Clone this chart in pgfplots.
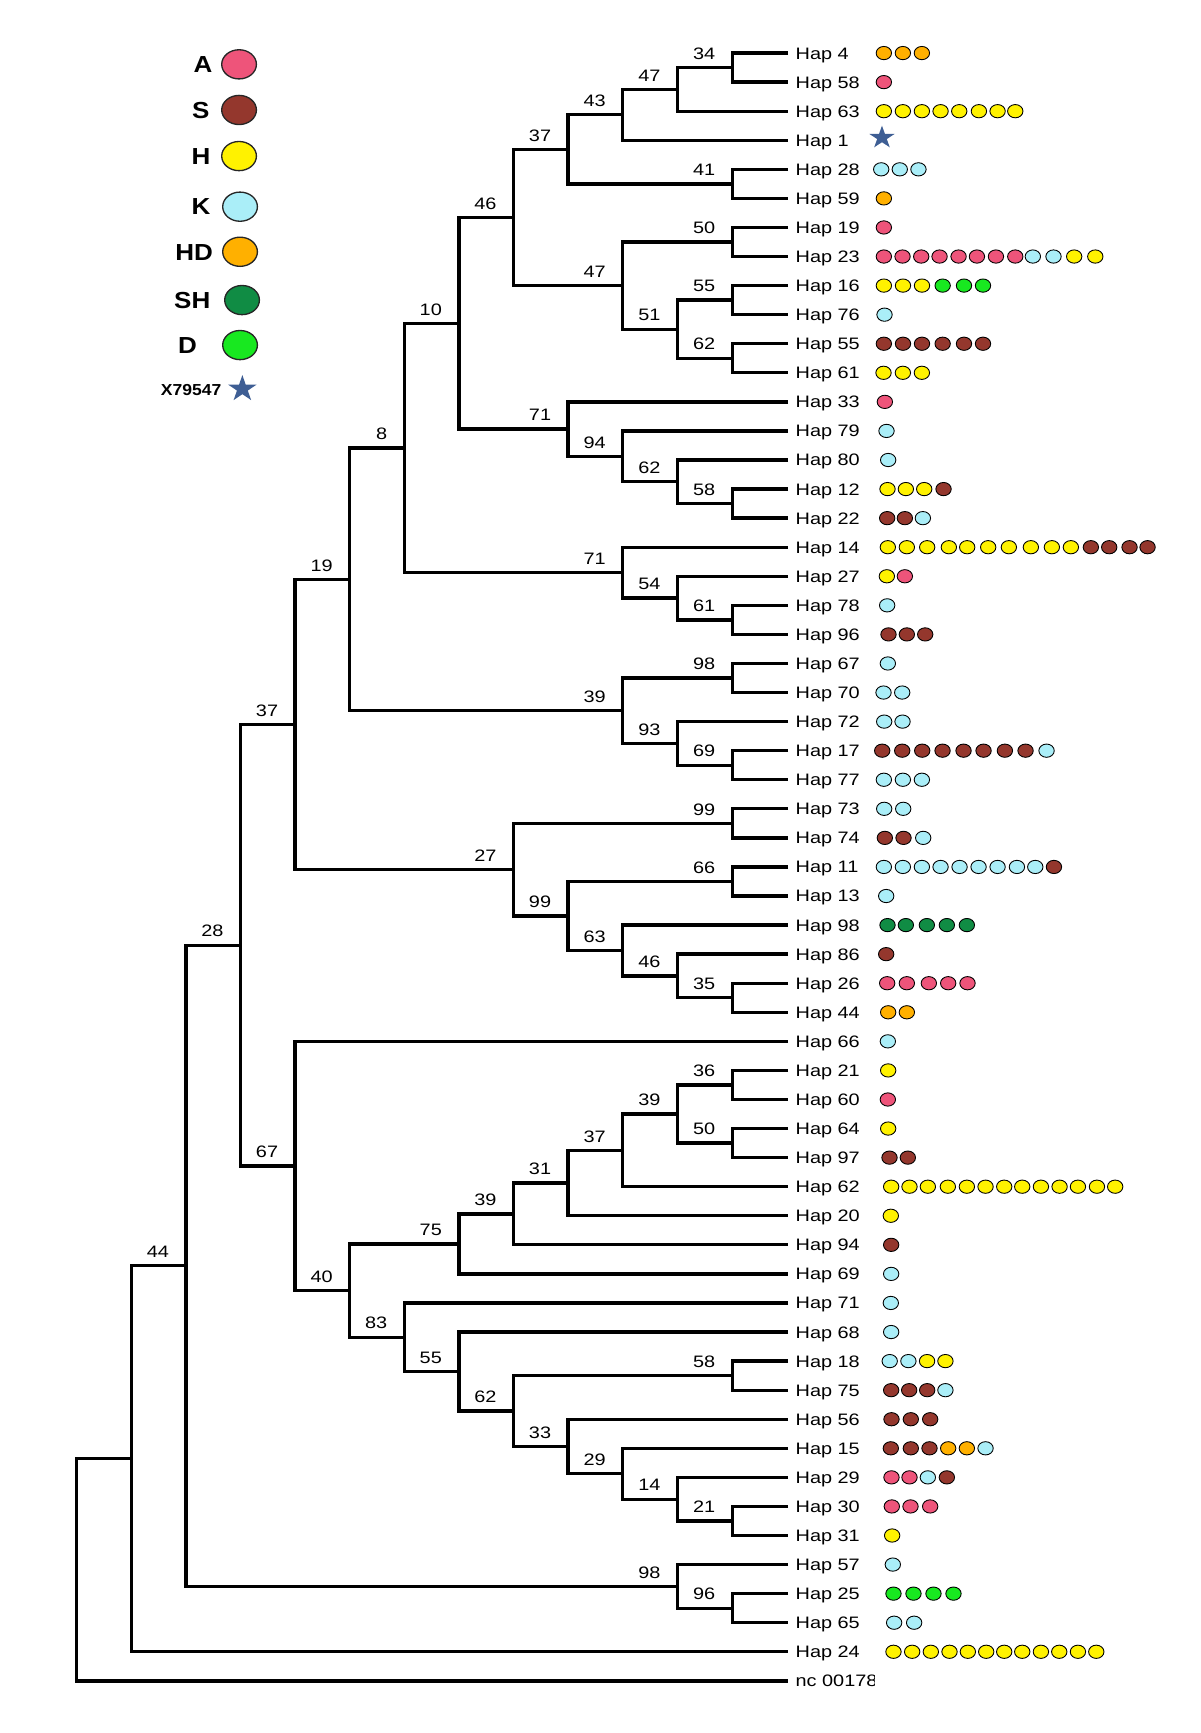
\documentclass[border=0pt]{standalone}
\usepackage{pgfplots}
\pgfplotsset{compat=1.18}
\usepackage{graphicx}
\usepackage{fontspec}
\setmainfont{Liberation Sans}
\definecolor{cA}{RGB}{238,84,122}
\definecolor{cS}{RGB}{148,55,45}
\definecolor{cH}{RGB}{255,242,0}
\definecolor{cK}{RGB}{170,238,248}
\definecolor{cHD}{RGB}{255,176,0}
\definecolor{cSH}{RGB}{16,140,68}
\definecolor{cD}{RGB}{24,232,32}
\definecolor{cStar}{RGB}{62,94,148}
\pgfdeclareplotmark{fstar}{%
  \pgfpathmoveto{\pgfpointpolar{90}{\pgfplotmarksize}}%
  \pgfpathlineto{\pgfpointpolar{54}{0.382\pgfplotmarksize}}%
  \pgfpathlineto{\pgfpointpolar{18}{\pgfplotmarksize}}%
  \pgfpathlineto{\pgfpointpolar{-18}{0.382\pgfplotmarksize}}%
  \pgfpathlineto{\pgfpointpolar{-54}{\pgfplotmarksize}}%
  \pgfpathlineto{\pgfpointpolar{-90}{0.382\pgfplotmarksize}}%
  \pgfpathlineto{\pgfpointpolar{-126}{\pgfplotmarksize}}%
  \pgfpathlineto{\pgfpointpolar{-162}{0.382\pgfplotmarksize}}%
  \pgfpathlineto{\pgfpointpolar{162}{\pgfplotmarksize}}%
  \pgfpathlineto{\pgfpointpolar{126}{0.382\pgfplotmarksize}}%
  \pgfpathclose\pgfusepathqfill}
\pgfplotsset{
  tree/.style={black, line width=1.5pt, mark=none, line join=miter},
  dots/.style={only marks, mark=*, mark size=3pt,
     mark options={xscale=1.16, fill=#1, draw=black, line width=0.4pt}},
  ldot/.style={only marks, mark=*, mark size=6.6pt,
     mark options={xscale=1.19, fill=#1, draw=black!85, line width=0.6pt}},
}
\tikzset{
  hapst/.style={anchor=base west, inner sep=0pt, yshift=-2.7pt, font=\fontsize{7.5}{9}\selectfont},
  blst/.style={anchor=base east, inner sep=0pt, xshift=-7.5pt, yshift=3.75pt, font=\fontsize{7.5}{9}\selectfont},
  legst/.style={anchor=base east, inner sep=0pt, yshift=-3.75pt, font=\bfseries\fontsize{10.5}{12}\selectfont},
}
\newcommand\hap[2]{\node[hapst] at (axis cs:719.5,#1) {\scalebox{1.2}[1]{#2}};}
\newcommand\bl[3]{\node[blst] at (axis cs:#2,#3) {\scalebox{1.2}[1]{#1}};}
\newcommand\legtxt[3]{\node[legst] at (axis cs:#1,#2) {\scalebox{1.12}[1]{#3}};}
\begin{document}
\begin{tikzpicture}
\begin{axis}[
  hide axis, scale only axis, width=543pt, height=784pt,
  xmin=0, xmax=1086, ymin=-1.825, ymax=57.795, y dir=reverse,
  clip=false]
\path (rel axis cs:0,0) rectangle (rel axis cs:1,1);
% ---------------- tree ----------------
\addplot[tree] coordinates {(713,0) (662.5,0) (662.5,1) (713,1)};
\addplot[tree] coordinates {(662.5,0.5) (613,0.5) (613,2) (713,2)};
\addplot[tree] coordinates {(613,1.25) (563.5,1.25) (563.5,3) (713,3)};
\addplot[tree] coordinates {(713,4) (662.5,4) (662.5,5) (713,5)};
\addplot[tree] coordinates {(563.5,2.125) (514,2.125) (514,4.5) (662.5,4.5)};
\addplot[tree] coordinates {(713,6) (662.5,6) (662.5,7) (713,7)};
\addplot[tree] coordinates {(713,8) (662.5,8) (662.5,9) (713,9)};
\addplot[tree] coordinates {(713,10) (662.5,10) (662.5,11) (713,11)};
\addplot[tree] coordinates {(662.5,8.5) (613,8.5) (613,10.5) (662.5,10.5)};
\addplot[tree] coordinates {(662.5,6.5) (563.5,6.5) (563.5,9.5) (613,9.5)};
\addplot[tree] coordinates {(514,3.3125) (464.6,3.3125) (464.6,8) (563.5,8)};
\addplot[tree] coordinates {(713,15) (662.5,15) (662.5,16) (713,16)};
\addplot[tree] coordinates {(713,14) (613,14) (613,15.5) (662.5,15.5)};
\addplot[tree] coordinates {(713,13) (563.5,13) (563.5,14.75) (613,14.75)};
\addplot[tree] coordinates {(713,12) (514,12) (514,13.875) (563.5,13.875)};
\addplot[tree] coordinates {(464.6,5.65625) (415.2,5.65625) (415.2,12.9375) (514,12.9375)};
\addplot[tree] coordinates {(713,19) (662.5,19) (662.5,20) (713,20)};
\addplot[tree] coordinates {(713,18) (613,18) (613,19.5) (662.5,19.5)};
\addplot[tree] coordinates {(713,17) (563.5,17) (563.5,18.75) (613,18.75)};
\addplot[tree] coordinates {(415.2,9.296875) (365.8,9.296875) (365.8,17.875) (563.5,17.875)};
\addplot[tree] coordinates {(713,21) (662.5,21) (662.5,22) (713,22)};
\addplot[tree] coordinates {(713,24) (662.5,24) (662.5,25) (713,25)};
\addplot[tree] coordinates {(713,23) (613,23) (613,24.5) (662.5,24.5)};
\addplot[tree] coordinates {(662.5,21.5) (563.5,21.5) (563.5,23.75) (613,23.75)};
\addplot[tree] coordinates {(365.8,13.5859) (316.5,13.5859) (316.5,22.625) (563.5,22.625)};
\addplot[tree] coordinates {(713,26) (662.5,26) (662.5,27) (713,27)};
\addplot[tree] coordinates {(713,28) (662.5,28) (662.5,29) (713,29)};
\addplot[tree] coordinates {(713,32) (662.5,32) (662.5,33) (713,33)};
\addplot[tree] coordinates {(713,31) (613,31) (613,32.5) (662.5,32.5)};
\addplot[tree] coordinates {(713,30) (563.5,30) (563.5,31.75) (613,31.75)};
\addplot[tree] coordinates {(662.5,28.5) (514,28.5) (514,30.875) (563.5,30.875)};
\addplot[tree] coordinates {(662.5,26.5) (464.6,26.5) (464.6,29.6875) (514,29.6875)};
\addplot[tree] coordinates {(316.5,18.1055) (267,18.1055) (267,28.0938) (464.6,28.0938)};
\addplot[tree] coordinates {(713,35) (662.5,35) (662.5,36) (713,36)};
\addplot[tree] coordinates {(713,37) (662.5,37) (662.5,38) (713,38)};
\addplot[tree] coordinates {(662.5,35.5) (613,35.5) (613,37.5) (662.5,37.5)};
\addplot[tree] coordinates {(613,36.5) (563.5,36.5) (563.5,39) (713,39)};
\addplot[tree] coordinates {(563.5,37.75) (514,37.75) (514,40) (713,40)};
\addplot[tree] coordinates {(514,38.875) (464.6,38.875) (464.6,41) (713,41)};
\addplot[tree] coordinates {(464.6,39.9375) (415.2,39.9375) (415.2,42) (713,42)};
\addplot[tree] coordinates {(713,45) (662.5,45) (662.5,46) (713,46)};
\addplot[tree] coordinates {(713,50) (662.5,50) (662.5,51) (713,51)};
\addplot[tree] coordinates {(713,49) (613,49) (613,50.5) (662.5,50.5)};
\addplot[tree] coordinates {(713,48) (563.5,48) (563.5,49.75) (613,49.75)};
\addplot[tree] coordinates {(713,47) (514,47) (514,48.875) (563.5,48.875)};
\addplot[tree] coordinates {(662.5,45.5) (464.6,45.5) (464.6,47.9375) (514,47.9375)};
\addplot[tree] coordinates {(713,44) (415.2,44) (415.2,46.71875) (464.6,46.71875)};
\addplot[tree] coordinates {(713,43) (365.8,43) (365.8,45.3594) (415.2,45.3594)};
\addplot[tree] coordinates {(415.2,40.96875) (316.5,40.96875) (316.5,44.1797) (365.8,44.1797)};
\addplot[tree] coordinates {(713,34) (267,34) (267,42.5742) (316.5,42.5742)};
\addplot[tree] coordinates {(267,23.0996) (217.6,23.0996) (217.6,38.2871) (267,38.2871)};
\addplot[tree] coordinates {(713,53) (662.5,53) (662.5,54) (713,54)};
\addplot[tree] coordinates {(713,52) (613,52) (613,53.5) (662.5,53.5)};
\addplot[tree] coordinates {(217.6,30.6934) (168.2,30.6934) (168.2,52.75) (613,52.75)};
\addplot[tree] coordinates {(168.2,41.7217) (118.8,41.7217) (118.8,55) (713,55)};
\addplot[tree] coordinates {(118.8,48.3609) (69.5,48.3609) (69.5,56) (713,56)};
% ---------------- bootstrap labels ----------------
\bl{34}{662.5}{0.5}
\bl{47}{613}{1.25}
\bl{43}{563.5}{2.125}
\bl{41}{662.5}{4.5}
\bl{37}{514}{3.3125}
\bl{50}{662.5}{6.5}
\bl{55}{662.5}{8.5}
\bl{62}{662.5}{10.5}
\bl{51}{613}{9.5}
\bl{47}{563.5}{8}
\bl{46}{464.6}{5.65625}
\bl{58}{662.5}{15.5}
\bl{62}{613}{14.75}
\bl{94}{563.5}{13.875}
\bl{71}{514}{12.9375}
\bl{10}{415.2}{9.296875}
\bl{61}{662.5}{19.5}
\bl{54}{613}{18.75}
\bl{71}{563.5}{17.875}
\bl{8}{365.8}{13.5859}
\bl{98}{662.5}{21.5}
\bl{69}{662.5}{24.5}
\bl{93}{613}{23.75}
\bl{39}{563.5}{22.625}
\bl{19}{316.5}{18.1055}
\bl{99}{662.5}{26.5}
\bl{66}{662.5}{28.5}
\bl{35}{662.5}{32.5}
\bl{46}{613}{31.75}
\bl{63}{563.5}{30.875}
\bl{99}{514}{29.6875}
\bl{27}{464.6}{28.0938}
\bl{37}{267}{23.0996}
\bl{36}{662.5}{35.5}
\bl{50}{662.5}{37.5}
\bl{39}{613}{36.5}
\bl{37}{563.5}{37.75}
\bl{31}{514}{38.875}
\bl{39}{464.6}{39.9375}
\bl{75}{415.2}{40.96875}
\bl{58}{662.5}{45.5}
\bl{21}{662.5}{50.5}
\bl{14}{613}{49.75}
\bl{29}{563.5}{48.875}
\bl{33}{514}{47.9375}
\bl{62}{464.6}{46.71875}
\bl{55}{415.2}{45.359375}
\bl{83}{365.8}{44.1797}
\bl{40}{316.5}{42.5742}
\bl{67}{267}{38.2871}
\bl{28}{217.6}{30.6934}
\bl{96}{662.5}{53.5}
\bl{98}{613}{52.75}
\bl{44}{168.2}{41.7217}
% ---------------- leaf names ----------------
\hap{0}{Hap 4}\hap{1}{Hap 58}\hap{2}{Hap 63}\hap{3}{Hap 1}\hap{4}{Hap 28}
\hap{5}{Hap 59}\hap{6}{Hap 19}\hap{7}{Hap 23}\hap{8}{Hap 16}\hap{9}{Hap 76}
\hap{10}{Hap 55}\hap{11}{Hap 61}\hap{12}{Hap 33}\hap{13}{Hap 79}\hap{14}{Hap 80}
\hap{15}{Hap 12}\hap{16}{Hap 22}\hap{17}{Hap 14}\hap{18}{Hap 27}\hap{19}{Hap 78}
\hap{20}{Hap 96}\hap{21}{Hap 67}\hap{22}{Hap 70}\hap{23}{Hap 72}\hap{24}{Hap 17}
\hap{25}{Hap 77}\hap{26}{Hap 73}\hap{27}{Hap 74}\hap{28}{Hap 11}\hap{29}{Hap 13}
\hap{30}{Hap 98}\hap{31}{Hap 86}\hap{32}{Hap 26}\hap{33}{Hap 44}\hap{34}{Hap 66}
\hap{35}{Hap 21}\hap{36}{Hap 60}\hap{37}{Hap 64}\hap{38}{Hap 97}\hap{39}{Hap 62}
\hap{40}{Hap 20}\hap{41}{Hap 94}\hap{42}{Hap 69}\hap{43}{Hap 71}\hap{44}{Hap 68}
\hap{45}{Hap 18}\hap{46}{Hap 75}\hap{47}{Hap 56}\hap{48}{Hap 15}\hap{49}{Hap 29}
\hap{50}{Hap 30}\hap{51}{Hap 31}\hap{52}{Hap 57}\hap{53}{Hap 25}\hap{54}{Hap 65}
\hap{55}{Hap 24}
\begin{scope}
\clip (axis cs:700,55.5) rectangle (axis cs:791,57);
\hap{56}{nc 00178}
\end{scope}
% ---------------- haplotype dots ----------------
\addplot[dots=cA] coordinates {(799.7,1) (799.7,6)
 (799.7,7) (816.6,7) (833.5,7) (850.1,7) (867.3,7) (883.9,7) (901.1,7) (918.6,7)
 (800.6,12) (818.7,18)
 (802.7,32) (820.5,32) (840.4,32) (857.9,32) (875.4,32)
 (803.3,36) (806.6,49) (822.9,49) (806.9,50) (823.8,50) (841.6,50)};
\addplot[dots=cS] coordinates {
 (799.7,10) (817,10) (834.2,10) (852.9,10) (872.2,10) (889.4,10)
 (853.7,15) (802.7,16) (818.7,16)
 (987.0,17) (1003.6,17) (1022.0,17) (1038.3,17)
 (803.9,20) (820.5,20) (837.1,20)
 (798.2,24) (816.3,24) (834.4,24) (852.8,24) (871.8,24) (889.9,24) (909.2,24) (927.9,24)
 (800.6,27) (817.5,27) (953.6,28) (801.8,31) (804.8,38) (821.4,38) (806.3,41)
 (806.3,46) (822.6,46) (838.9,46) (806.6,47) (824.1,47) (841.6,47)
 (806,48) (824.1,48) (841,48) (856.7,49)};
\addplot[dots=cH] coordinates {
 (799.7,2) (816.9,2) (834.1,2) (851.0,2) (867.9,2) (885.7,2) (902.6,2) (918.6,2)
 (971.9,7) (991.0,7)
 (799.7,8) (817,8) (834.2,8)
 (799.4,11) (816.9,11) (834.1,11)
 (803,15) (819.6,15) (836.2,15)
 (803.3,17) (820.5,17) (838.9,17) (858.5,17) (875.1,17) (894.1,17) (912.8,17) (932.7,17) (951.7,17) (968.9,17)
 (802.4,18) (803.6,35) (803.6,37)
 (806.3,39) (822.9,39) (839.5,39) (857.6,39) (874.8,39) (891.7,39) (908.6,39) (924.9,39) (941.8,39) (958.7,39) (975.3,39) (992.5,39) (1009.0,39)
 (806,40) (838.8,45) (855.4,45) (807.2,51)
 (808.4,55) (825.3,55) (842.2,55) (859.1,55) (875.7,55) (892.3,55) (908.6,55) (924.9,55) (941.8,55) (958.4,55) (975.3,55) (991.9,55)};
\addplot[dots=cK] coordinates {
 (797.3,4) (814.1,4) (831,4) (934.5,7) (953.2,7) (800.3,9) (802.1,13) (803.6,14)
 (835,16) (802.7,19) (803.3,21) (799.4,22) (816.3,22) (800,23) (816.6,23) (946.9,24)
 (799.7,25) (816.9,25) (834.1,25) (800,26) (817.2,26) (835.3,27)
 (799.7,28) (816.9,28) (834.1,28) (851.0,28) (868.2,28) (885.4,28) (902.6,28) (920.1,28) (936.7,28)
 (801.8,29) (803.3,34) (806.3,42) (806,43) (806.3,44) (805,45) (821.9,45) (855.4,46)
 (891.7,48) (839.5,49) (807.8,52) (809,54) (827.1,54)};
\addplot[dots=cHD] coordinates {(799.7,0) (816.9,0) (834.1,0) (799.7,5)
 (803.6,33) (820.5,33) (857.9,48) (874.8,48)};
\addplot[dots=cSH] coordinates {(803,30) (819.6,30) (838.6,30) (856.7,30) (874.8,30)};
\addplot[dots=cD] coordinates {(852.9,8) (872.2,8) (889.4,8)
 (808.4,53) (826.5,53) (844.6,53) (862.7,53)};
\addplot[only marks, mark=fstar, mark size=5.4pt,
  mark options={xscale=1.11, fill=cStar}] coordinates {(798,2.91)};
% ---------------- legend ----------------
\addplot[ldot=cA] coordinates {(216.3,0.388)};
\addplot[ldot=cS] coordinates {(216.3,1.958)};
\addplot[ldot=cH] coordinates {(216.3,3.544)};
\addplot[ldot=cK] coordinates {(217.2,5.285)};
\addplot[ldot=cHD] coordinates {(217.2,6.836)};
\addplot[ldot=cSH] coordinates {(219,8.498)};
\addplot[ldot=cD] coordinates {(217.2,10.046)};
\addplot[only marks, mark=fstar, mark size=6.25pt,
  mark options={xscale=1.08, fill=cStar}] coordinates {(219.3,11.555)};
\legtxt{192.5}{0.388}{A}
\legtxt{190}{1.958}{S}
\legtxt{190.7}{3.544}{H}
\legtxt{190.7}{5.285}{K}
\legtxt{193}{6.836}{HD}
\legtxt{190.7}{8.498}{SH}
\legtxt{178.5}{10.046}{D}
\node[anchor=base east, inner sep=0pt, yshift=-2.55pt, font=\bfseries\fontsize{7.2}{9}\selectfont]
  at (axis cs:200.6,11.597) {\scalebox{1.1}[1]{X79547}};
\end{axis}
\end{tikzpicture}
\end{document}
